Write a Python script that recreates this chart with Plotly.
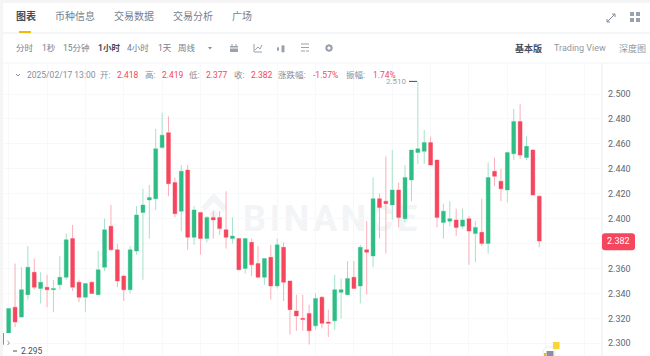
import pandas as pd
import plotly.graph_objects as go

W, H = 650, 356
GREEN, RED = "#2EBD85", "#F6465D"
PALE_G, PALE_R = "#A3E2C9", "#FBAFB9"
GREY, DARK, LINE = "#848E9C", "#474D57", "#EAECEF"
FONT = "Roboto, 'Noto Sans CJK SC', sans-serif"

open_ = [2.299,2.296,2.329,2.321,2.339,2.357,2.344,2.345,2.343,2.347,2.353,2.384,2.349,2.337,2.349,2.339,2.361,2.394,2.375,2.354,2.343,2.374,2.405,
         2.415,2.416,2.457,2.469,2.429,2.406,2.439,2.385,2.405,2.384,2.401,2.401,2.391,2.384,2.384,2.360,2.381,2.364,2.353,2.369,2.346,2.377,2.350,2.326,
         2.320,2.324,2.314,2.337,2.317,2.318,2.341,2.339,2.353,2.346,2.375,2.370,2.416,2.414,2.411,2.423,2.400,2.431,2.453,2.454,2.461,2.447,2.397,2.398,
         2.399,2.394,2.400,2.388,2.389,2.380,2.438,2.430,2.423,2.452,2.478,2.449,2.455,2.418]
high = [2.308,2.328,2.364,2.361,2.378,2.368,2.357,2.355,2.351,2.370,2.388,2.395,2.351,2.348,2.350,2.374,2.400,2.411,2.380,2.355,2.378,2.410,2.424,
        2.427,2.472,2.485,2.482,2.433,2.443,2.443,2.410,2.405,2.402,2.406,2.406,2.422,2.401,2.384,2.384,2.384,2.378,2.368,2.379,2.384,2.381,2.350,2.339,
        2.339,2.331,2.340,2.338,2.327,2.355,2.352,2.366,2.366,2.379,2.398,2.433,2.420,2.450,2.455,2.429,2.443,2.455,2.510,2.471,2.466,2.447,2.412,2.414,
        2.408,2.408,2.402,2.398,2.416,2.445,2.449,2.440,2.453,2.488,2.492,2.466,2.456,2.419]
low = [2.298,2.295,2.313,2.321,2.335,2.343,2.332,2.329,2.325,2.343,2.351,2.342,2.333,2.325,2.340,2.339,2.358,2.374,2.345,2.334,2.340,2.371,2.351,
       2.384,2.407,2.456,2.418,2.401,2.390,2.375,2.379,2.371,2.381,2.384,2.387,2.376,2.380,2.359,2.356,2.354,2.352,2.347,2.335,2.344,2.334,2.307,2.310,
       2.310,2.299,2.311,2.312,2.305,2.311,2.320,2.339,2.344,2.332,2.339,2.361,2.384,2.372,2.399,2.393,2.397,2.414,2.444,2.444,2.443,2.393,2.384,2.394,
       2.386,2.392,2.363,2.365,2.378,2.372,2.426,2.414,2.413,2.447,2.448,2.447,2.419,2.377]
close = [2.308,2.328,2.317,2.343,2.361,2.345,2.349,2.343,2.344,2.353,2.383,2.345,2.337,2.348,2.340,2.359,2.391,2.375,2.350,2.343,2.375,2.403,2.411,
         2.417,2.456,2.467,2.428,2.404,2.438,2.385,2.407,2.384,2.401,2.399,2.392,2.385,2.386,2.359,2.384,2.363,2.353,2.368,2.346,2.379,2.349,2.327,2.322,
         2.319,2.310,2.336,2.316,2.316,2.343,2.343,2.352,2.344,2.377,2.373,2.416,2.409,2.412,2.423,2.401,2.433,2.455,2.456,2.461,2.443,2.401,2.406,2.400,
         2.393,2.399,2.390,2.393,2.380,2.433,2.434,2.424,2.453,2.478,2.451,2.458,2.419,2.382]
times = pd.date_range(end="2025-02-17 13:00", periods=len(close), freq="h")
y_ticks = [2.30, 2.32, 2.34, 2.36, 2.38, 2.40, 2.42, 2.44, 2.46, 2.48, 2.50]
y_tick_text = ["2.300", "2.320", "2.340", "2.360", "", "2.400", "2.420", "2.440", "2.460", "2.480", "2.500"]

body_hi = [max(a, b) for a, b in zip(open_, close)]
body_lo = [min(a, b) for a, b in zip(open_, close)]

def px(x):
    return x / W
def py(y):
    return 1 - y / H

fig = go.Figure()
fig.add_trace(go.Candlestick(
    x=times, open=open_, high=high, low=low, close=close, whiskerwidth=0, hoverinfo="skip",
    increasing=dict(line=dict(color=PALE_G, width=1), fillcolor=PALE_G),
    decreasing=dict(line=dict(color=PALE_R, width=1), fillcolor=PALE_R),
))
fig.add_trace(go.Candlestick(
    x=times, open=open_, high=body_hi, low=body_lo, close=close, whiskerwidth=0, hoverinfo="skip",
    increasing=dict(line=dict(color=GREEN, width=0), fillcolor=GREEN),
    decreasing=dict(line=dict(color=RED, width=0), fillcolor=RED),
))

shapes, annos = [], []

def rect(x0, y0, x1, y1, color, layer="above", label=None):
    s = dict(type="rect", xref="paper", yref="paper", x0=px(x0), x1=px(x1), y0=py(y0), y1=py(y1),
             fillcolor=color, line=dict(width=0), layer=layer)
    if label:
        s["label"] = label
    shapes.append(s)

def seg(x0, y0, x1, y1, color=GREY, width=1):
    shapes.append(dict(type="line", xref="paper", yref="paper", x0=px(x0), x1=px(x1), y0=py(y0), y1=py(y1),
                       line=dict(color=color, width=width), layer="above"))

def path(pts, fill=None, color=GREY, width=1, layer="above", closed=False):
    d = "M" + " L".join(f"{px(a):.5f},{py(b):.5f}" for a, b in pts) + (" Z" if closed else "")
    shapes.append(dict(type="path", xref="paper", yref="paper", path=d, fillcolor=fill,
                       line=dict(color=color, width=width), layer=layer))

def text(x, y, s, color=GREY, size=9, anchor="left", bold=False, yref="paper"):
    annos.append(dict(x=px(x), y=py(y) if yref == "paper" else y, xref="paper", yref=yref, text=f"<b>{s}</b>" if bold else s,
                      showarrow=False, xanchor=anchor, yanchor="middle", borderpad=0,
                      font=dict(color=color, size=size, family=FONT)))

# page frame
rect(0, 0, 650, 3, "#F5F5F5")
rect(0, 0, 3, 356, "#F5F5F5")
seg(3, 33, 650, 33, LINE)
seg(3, 63, 650, 63, "#F3F4F6")
seg(602, 63, 602, 356, LINE)
rect(19, 31, 31, 33, "#F0B90B")

# tab row
text(15, 16, "图表", DARK, 10, bold=True)
for x, s in [(54, "币种信息"), (113, "交易数据"), (172, "交易分析"), (231, "广场")]:
    text(x, 16, s, "#76808F", 10)

# interval row
for x, s in [(15, "分时"), (41, "1秒"), (62, "15分钟"), (126, "4小时"), (157, "1天"), (177, "周线")]:
    text(x, 48, s, "#76808F", 8.5)
text(97, 48, "1小时", DARK, 8.5, bold=True)
path([(208, 47), (212, 47), (210, 49.5)], fill=GREY, width=0, closed=True)
text(514, 48, "基本版", DARK, 9, bold=True)
text(553, 48, "Trading View", "#8F98A5", 9)
text(618, 48, "深度图", "#8F98A5", 9)

# toolbar icons
IC = "#98A1AD"
rect(230, 46, 238, 52, IC)
seg(232, 44, 232, 46, IC); seg(236, 44, 236, 46, IC); seg(230, 48, 238, 48, "#FFFFFF")
path([(254, 44), (254, 52), (262, 52)], color=IC)
path([(255, 50), (258, 47), (260, 49), (262, 45)], color=IC)
seg(277, 49, 279, 49, IC, 3); seg(283, 45, 283, 53, IC, 0.7); rect(281.5, 45.5, 284.5, 52, IC); seg(278, 47, 278, 51, IC, 0.7)
seg(301, 44, 309, 44, IC); seg(301, 47.5, 309, 47.5, IC); seg(301, 51, 305, 51, IC); seg(306, 51, 309, 51, IC)
shapes.append(dict(type="circle", xref="paper", yref="paper", x0=px(326.5), x1=px(331.5), y0=py(45.5), y1=py(50.5),
                   fillcolor="rgba(0,0,0,0)", line=dict(color=IC, width=2), layer="above"))
for a, b, c, d in [(329, 44, 329, 52), (325, 48, 333, 48), (326.2, 45.2, 331.8, 50.8), (326.2, 50.8, 331.8, 45.2)]:
    seg(a, b, c, d, IC, 1)
shapes.append(dict(type="circle", xref="paper", yref="paper", x0=px(327.5), x1=px(330.5), y0=py(46.5), y1=py(49.5),
                   fillcolor="#FFFFFF", line=dict(width=0), layer="above"))
# top right icons
path([(607, 22), (615, 14)], color="#848E9C"); path([(612, 14), (615, 14), (615, 17)], color="#848E9C")
path([(607, 19), (607, 22), (610, 22)], color="#848E9C")
for cx in (632, 638):
    for cy in (14, 20):
        rect(cx - 2, cy - 2, cx + 2, cy + 2, "#98A1AD")

# legend row
path([(16, 74), (18, 76), (20, 74)], color=GREY)
text(26, 75, "2025/02/17 13:00", GREY, 8.5)
for xl, sl, xv, sv in [(99, "开:", 116, "2.418"), (144, "高:", 161, "2.419"), (188, "低:", 205, "2.377"),
                       (233, "收:", 250, "2.382"), (277, "涨跌幅:", 312, "-1.57%"), (345, "振幅:", 372, "1.74%")]:
    text(xl, 75, sl, GREY, 8.5)
    text(xv, 75, sv, RED, 8.5)

# watermark under the candles
WM = "#F3F4F5"
rect(240, 196, 425, 236, "rgba(0,0,0,0)", layer="below",
     label=dict(text="<b>B\u200aI\u200aN\u200aA\u200aN\u200aC\u200aE</b>", textposition="middle left", padding=0,
                font=dict(color=WM, size=36, family="Roboto")))
path([(201, 207), (214, 193), (227, 207), (223, 211), (214, 202), (205, 211)], fill=WM, color=WM, width=0, layer="below", closed=True)
path([(209, 214), (214, 209), (219, 214), (214, 219)], fill=WM, color=WM, width=0, layer="below", closed=True)

# extreme markers
seg(409, 81.4, 417, 81.4, "#474D57")
text(408, 81.4, "2.510", "#9AA2AE", 8, anchor="right")

# collapsed panel at lower left
rect(4, 333, 13, 356, "#FFFFFF")
path([(7.5, 341), (9.5, 343), (7.5, 345)], color=GREY)
seg(13, 351, 17, 351, "#474D57")
text(20, 351, "2.295", DARK, 8.5)

# bottom-right marker
path([(543, 356), (543, 351), (546, 347), (553, 347), (555, 350), (555, 356)], fill="#FFFFFF", color="#EAECEF", width=1)
rect(546.5, 351, 553.5, 356, "#8A919C")
rect(544, 353, 546, 356, "#F0B90B")
rect(553, 342, 559.5, 349, "#FCD535")

# last-price tag
def rounded(x0, y0, x1, y1, r):
    pts = (f"M{px(x0+r):.5f},{py(y0):.5f} L{px(x1-r):.5f},{py(y0):.5f} Q{px(x1):.5f},{py(y0):.5f} {px(x1):.5f},{py(y0+r):.5f} "
           f"L{px(x1):.5f},{py(y1-r):.5f} Q{px(x1):.5f},{py(y1):.5f} {px(x1-r):.5f},{py(y1):.5f} "
           f"L{px(x0+r):.5f},{py(y1):.5f} Q{px(x0):.5f},{py(y1):.5f} {px(x0):.5f},{py(y1-r):.5f} "
           f"L{px(x0):.5f},{py(y0+r):.5f} Q{px(x0):.5f},{py(y0):.5f} {px(x0+r):.5f},{py(y0):.5f} Z")
    shapes.append(dict(type="path", xref="paper", yref="paper", path=pts, fillcolor=RED, line=dict(width=0), layer="above"))
rounded(602, 233.3, 635, 250.3, 3)
text(618.5, close[-1], f"{close[-1]:.3f}", "#FFFFFF", 9, anchor="center", yref="y")

# axes: 6.393 px per hourly candle, first candle centred at x = 2.28 px
PX_PER_BAR = 6.393
X0 = 2.28
def x_at(p):
    return times[0] + pd.Timedelta(hours=(p - X0) / PX_PER_BAR)

fig.update_layout(
    width=W, height=H, margin=dict(l=0, r=0, t=0, b=0), autosize=False,
    paper_bgcolor="#FFFFFF", plot_bgcolor="rgba(0,0,0,0)", showlegend=False, boxgap=0.14,
    xaxis=dict(domain=[px(3), px(602)], range=[x_at(3), x_at(602)], type="date", rangeslider=dict(visible=False),
               tick0="2025-02-14 08:00", dtick=6 * 3600000, showticklabels=False, ticks="",
               showgrid=True, gridcolor="#F7F8F9", gridwidth=1, zeroline=False, showline=False),
    yaxis=dict(domain=[0, py(63.5)], range=[2.5 - (356 - 94) / 1246.5, 2.5 - (63.5 - 94) / 1246.5], side="right",
               tickmode="array", tickvals=y_ticks, ticktext=y_tick_text, ticks="",
               tickfont=dict(color="#5E6673", size=9, family="Roboto"), ticklabelstandoff=5,
               showgrid=True, gridcolor="#F7F8F9", gridwidth=1, zeroline=False, showline=False),
    shapes=shapes, annotations=annos,
)
fig.write_html("out.html", config=dict(displayModeBar=False), post_script="document.body.style.margin='0';")
